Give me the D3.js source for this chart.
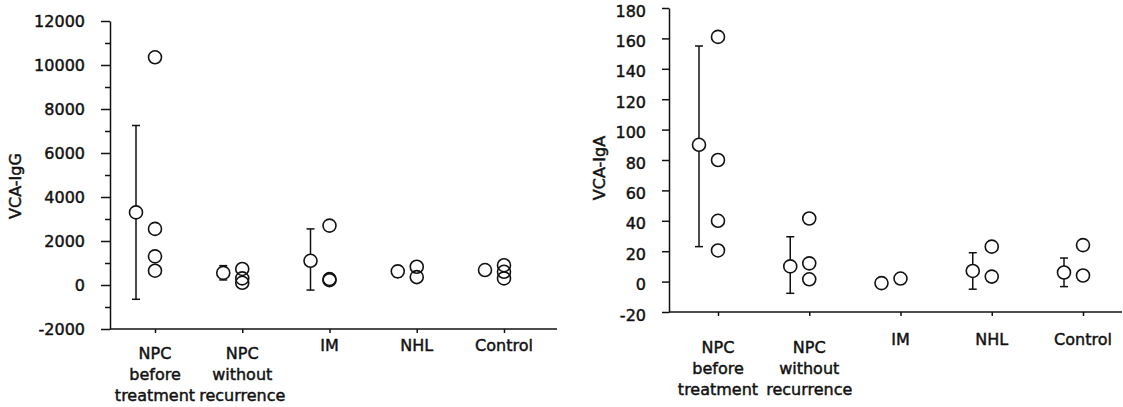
<!DOCTYPE html>
<html>
<head>
<meta charset="utf-8">
<script src="https://cdn.jsdelivr.net/npm/d3@7"></script>
<style>
  body { margin: 0; background: #fff; }
  svg text { font-family: "DejaVu Sans", sans-serif; font-size: 16px; fill: #111; stroke: #111; stroke-width: 0.45px; }
</style>
</head>
<body>
<div id="chart_container"></div>
<script>
// categories shared by both panels
var categories = ["NPC before treatment", "NPC without recurrence", "IM", "NHL", "Control"];
var categoryLines = [["NPC", "before", "treatment"], ["NPC", "without", "recurrence"], ["IM"], ["NHL"], ["Control"]];

// VCA-IgG panel
var iggMean = [3300, 550, 1100, 620, 680];
var iggHigh = [7250, 880, 2550, 860, null];
var iggLow = [-650, 230, -230, 360, null];
var iggPoints = [[10350, 2550, 1300, 650], [730, 300, 100], [2700, 270, 220], [830, 360], [900, 600, 300]];
var iggTicks = [-2000, 0, 2000, 4000, 6000, 8000, 10000, 12000];
var iggMinor = [-1000, 1000, 3000, 5000, 7000, 9000, 11000];

// VCA-IgA panel
var igaMean = [90, 10, -1, 7, 6];
var igaHigh = [155, 29.5, null, 19, 15.5];
var igaLow = [23, -7.7, null, -5, -3.3];
var igaPoints = [[161, 80, 40, 20.5], [41.5, 12, 1.5], [2], [23, 3.3], [24, 4]];
var igaTicks = [-20, 0, 20, 40, 60, 80, 100, 120, 140, 160, 180];

var svg = d3.select("#chart_container").append("svg")
    .attr("width", 1123)
    .attr("height", 407);

var panels = [
    {
        title: "VCA-IgG", mean: iggMean, high: iggHigh, low: iggLow, points: iggPoints,
        ticks: iggTicks, minor: iggMinor, domain: [-2000, 12000],
        axisX: 110, axisTop: 21, axisBottom: 329, axisRight: 557,
        xFirst: 155, xLast: 504, tickSize: 9, labelShift: 0,
        titleX: 15, titleY: 186, labelMulti: 353, labelSingle: 345
    },
    {
        title: "VCA-IgA", mean: igaMean, high: igaHigh, low: igaLow, points: igaPoints,
        ticks: igaTicks, minor: [], domain: [-20, 180],
        axisX: 669, axisTop: 8, axisBottom: 312, axisRight: 1122,
        xFirst: 718, xLast: 1083, tickSize: 7, labelShift: 3,
        titleX: 599, titleY: 168, labelMulti: 347, labelSingle: 339
    }
];

var meanOffset = -19;
var radius = 6.5;

panels.forEach(function(p) {
    var g = svg.append("g");

    var y = d3.scaleLinear()
        .domain(p.domain)
        .range([p.axisBottom, p.axisTop]);
    var x = d3.scalePoint()
        .domain(categories)
        .range([p.xFirst, p.xLast]);

    // y axis (plain hyphen for negatives, as in the original)
    var yAxis = g.append("g")
        .attr("transform", "translate(" + p.axisX + ",0)")
        .call(d3.axisLeft(y).tickValues(p.ticks).tickSize(p.tickSize).tickSizeOuter(0).tickPadding(16)
            .tickFormat(function(d) { return String(d); }));
    yAxis.selectAll("text")
        .style("font-family", "DejaVu Sans").style("font-size", "16px")
        .attr("fill", "#111")
        .attr("transform", "translate(0," + p.labelShift + ")");
    yAxis.selectAll("line").attr("stroke", "#111").attr("stroke-width", 1.5);
    yAxis.select(".domain").attr("stroke", "#111").attr("stroke-width", 1.5);

    if (p.minor.length) {
        var minorAxis = g.append("g")
            .attr("transform", "translate(" + p.axisX + ",0)")
            .call(d3.axisLeft(y).tickValues(p.minor).tickSize(5).tickFormat(""));
        minorAxis.select(".domain").remove();
        minorAxis.selectAll("line").attr("stroke", "#111").attr("stroke-width", 1.5);
    }

    // x axis
    g.append("line")
        .attr("x1", p.axisX).attr("x2", p.axisRight)
        .attr("y1", p.axisBottom).attr("y2", p.axisBottom)
        .attr("stroke", "#111").attr("stroke-width", 1.5);
    var xAxis = g.append("g")
        .attr("transform", "translate(0," + p.axisBottom + ")")
        .call(d3.axisBottom(x).tickSize(4).tickFormat(""));
    xAxis.select(".domain").remove();
    xAxis.selectAll("line").attr("stroke", "#111").attr("stroke-width", 1.5);

    // category labels
    categories.forEach(function(c, i) {
        var lines = categoryLines[i];
        var top = lines.length > 1 ? p.labelMulti : p.labelSingle;
        var t = g.append("text")
            .attr("text-anchor", "middle")
            .attr("dominant-baseline", "central");
        lines.forEach(function(l, j) {
            t.append("tspan")
                .attr("x", x(c))
                .attr("y", top + j * 21)
                .text(l);
        });
    });

    // axis title
    g.append("text")
        .attr("text-anchor", "middle")
        .attr("dominant-baseline", "central")
        .attr("transform", "translate(" + p.titleX + "," + p.titleY + ") rotate(-90)")
        .text(p.title);

    // error bars
    categories.forEach(function(c, i) {
        if (p.high[i] === null) return;
        var cx = x(c) + meanOffset;
        g.append("line")
            .attr("x1", cx).attr("x2", cx)
            .attr("y1", y(p.high[i])).attr("y2", y(p.low[i]))
            .attr("stroke", "#111").attr("stroke-width", 1.5);
        [p.high[i], p.low[i]].forEach(function(v) {
            g.append("line")
                .attr("x1", cx - 4).attr("x2", cx + 4)
                .attr("y1", y(v)).attr("y2", y(v))
                .attr("stroke", "#111").attr("stroke-width", 1.5);
        });
    });

    // means
    g.selectAll(".mean")
        .data(p.mean)
        .enter().append("circle")
        .attr("class", "mean")
        .attr("cx", function(d, i) { return x(categories[i]) + meanOffset; })
        .attr("cy", function(d) { return y(d); })
        .attr("r", radius)
        .attr("fill", "#fff")
        .attr("stroke", "#111")
        .attr("stroke-width", 1.6);

    // individual values
    categories.forEach(function(c, i) {
        g.selectAll(".pt" + i)
            .data(p.points[i])
            .enter().append("circle")
            .attr("cx", x(c))
            .attr("cy", function(d) { return y(d); })
            .attr("r", radius)
            .attr("fill", "none")
            .attr("stroke", "#111")
            .attr("stroke-width", 1.6);
    });
});
</script>
</body>
</html>
